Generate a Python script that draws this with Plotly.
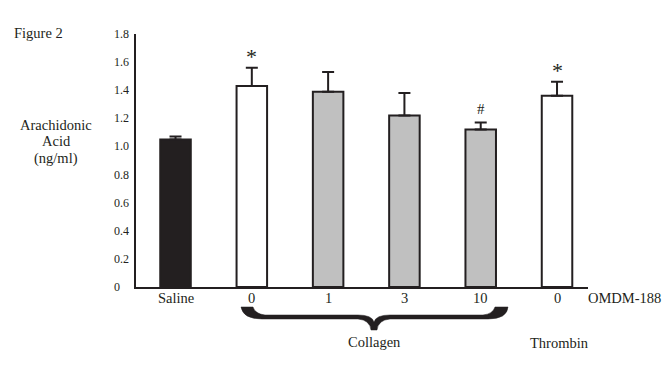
import plotly.graph_objects as go

# ---- data ----
categories = ["Saline", "0", "1", "3", "10", "0"]
values = [1.05, 1.43, 1.39, 1.22, 1.12, 1.36]
errors = [0.02, 0.13, 0.14, 0.16, 0.05, 0.10]
bar_colors = ["#231f20", "#ffffff", "#c0c0c0", "#c0c0c0", "#c0c0c0", "#ffffff"]
sig_marks = ["", "*", "", "", "#", "*"]
y_ticks = [0, 0.2, 0.4, 0.6, 0.8, 1.0, 1.2, 1.4, 1.6, 1.8]
y_tick_text = ["0", "0.2", "0.4", "0.6", "0.8", "1.0", "1.2", "1.4", "1.6", "1.8"]

# ---- layout geometry ----
W, H = 669, 373
ML, MR, MT, MB = 136, 81, 34, 86
PW, PH = W - ML - MR, H - MT - MB
INK = "#231f20"
FONT = "Liberation Serif, Times New Roman, serif"

def px_x(px):
    return (px - ML) / PW

def px_y(py):
    return (H - MB - py) / PH

xpos = list(range(len(categories)))

fig = go.Figure()
fig.add_trace(go.Bar(
    x=xpos, y=values, width=0.4,
    marker=dict(color=bar_colors, line=dict(color=INK, width=2)),
    error_y=dict(type="data", array=errors, arrayminus=[0] * len(errors),
                 symmetric=False, color=INK, thickness=2, width=6),
    showlegend=False, hoverinfo="skip",
))

annotations = []
# significance markers
for xi, v, e, m in zip(xpos, values, errors, sig_marks):
    if not m:
        continue
    if m == "*":
        annotations.append(dict(x=xi, y=v + e, xref="x", yref="y", text="*",
                                showarrow=False, yanchor="middle", yshift=11,
                                font=dict(family=FONT, size=22, color=INK)))
    else:
        annotations.append(dict(x=xi, y=v + e, xref="x", yref="y", text="#",
                                showarrow=False, yanchor="middle", yshift=14,
                                font=dict(family=FONT, size=15, color=INK)))

# left-aligned y tick labels
for tv, tt in zip(y_ticks, y_tick_text):
    annotations.append(dict(x=px_x(112), y=tv, xref="paper", yref="y", text=tt,
                            showarrow=False, xanchor="left", yanchor="middle",
                            font=dict(family=FONT, size=12, color=INK)))

txt = dict(family=FONT, size=14.5, color=INK)
# x category labels
for xi, c in zip(xpos, categories):
    annotations.append(dict(x=xi, y=px_y(298), xref="x", yref="paper", text=c,
                            showarrow=False, xanchor="center", yanchor="middle",
                            font=txt))

# texts
annotations.append(dict(x=px_x(12), y=px_y(33), xref="paper", yref="paper",
                        text="Figure 2", showarrow=False, xanchor="left",
                        yanchor="middle", font=txt))
for line, py in [("Arachidonic", 125), ("Acid", 141), ("(ng/ml)", 158)]:
    annotations.append(dict(x=px_x(56), y=px_y(py), xref="paper", yref="paper",
                            text=line, showarrow=False, xanchor="center",
                            yanchor="middle", font=txt))
annotations.append(dict(x=px_x(586), y=px_y(298), xref="paper", yref="paper",
                        text="OMDM-188", showarrow=False, xanchor="left",
                        yanchor="middle", font=txt))
annotations.append(dict(x=px_x(374), y=px_y(342), xref="paper", yref="paper",
                        text="Collagen", showarrow=False, xanchor="center",
                        yanchor="middle", font=txt))
annotations.append(dict(x=px_x(559), y=px_y(343), xref="paper", yref="paper",
                        text="Thrombin", showarrow=False, xanchor="center",
                        yanchor="middle", font=txt))

# curly brace (pixel outline converted to paper coords)
def P(px, py):
    return f"{px_x(px):.5f},{px_y(py):.5f}"

brace = (
    f"M {P(241,307)} L {P(253,307)} Q {P(255,314)} {P(265,315)} "
    f"L {P(358,315)} Q {P(372,315)} {P(374,322)} Q {P(376,315)} {P(390,315)} "
    f"L {P(483,315)} Q {P(493,314)} {P(495,307)} L {P(508,307)} "
    f"Q {P(507,319)} {P(488,319)} L {P(390,319)} Q {P(378,320)} {P(377,330)} "
    f"L {P(371,330)} Q {P(370,320)} {P(358,319)} L {P(262,319)} "
    f"Q {P(243,319)} {P(241,307)} Z"
)

fig.update_layout(
    width=W, height=H,
    margin=dict(l=ML, r=MR, t=MT, b=MB),
    paper_bgcolor="white", plot_bgcolor="white",
    font=dict(family=FONT, size=14.5, color=INK),
    annotations=annotations,
    shapes=[dict(type="path", path=brace, xref="paper", yref="paper",
                 fillcolor=INK, line=dict(color=INK, width=0.5))],
    xaxis=dict(range=[-0.518, 5.406], tickvals=xpos, showticklabels=False,
               showline=True, linecolor=INK, linewidth=2, showgrid=False,
               zeroline=False, ticks=""),
    yaxis=dict(range=[0, 1.8], showline=True, linecolor=INK, linewidth=2,
               showgrid=False, zeroline=False, showticklabels=False, ticks=""),
)

fig.write_html("out.html", config={"displayModeBar": False},
               post_script="document.body.style.margin='0';document.body.style.overflow='hidden';")
